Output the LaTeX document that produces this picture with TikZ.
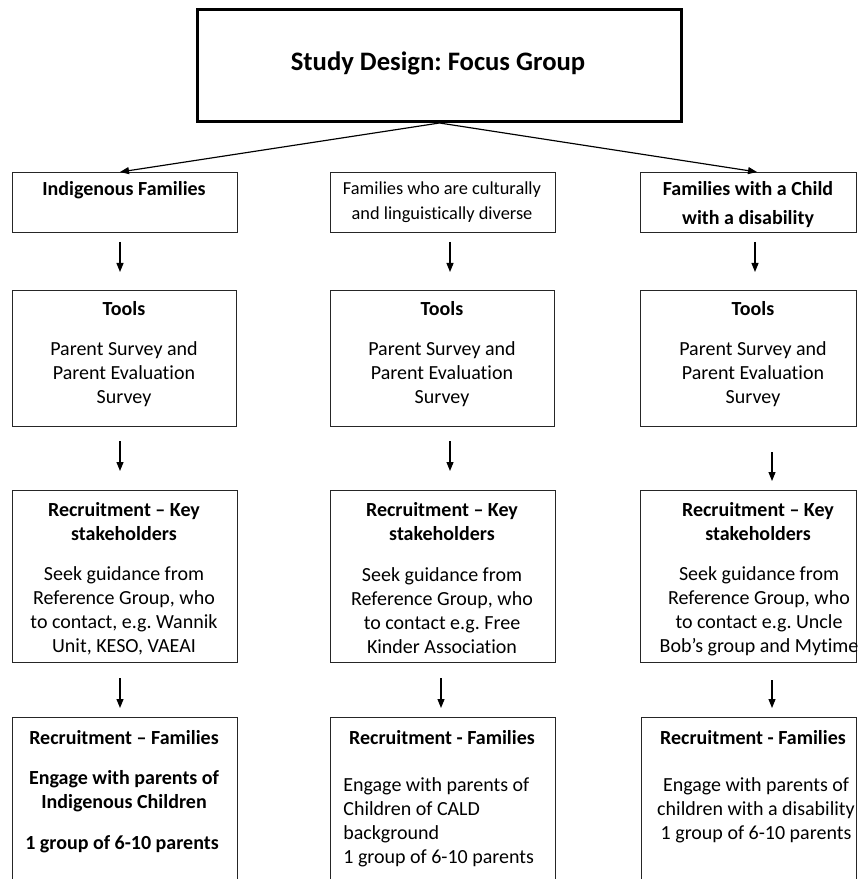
\documentclass[tikz,border=0pt]{standalone}
\usepackage{fontspec}
\setmainfont{Carlito}[Ligatures=NoCommon]
\frenchspacing
\usetikzlibrary{arrows.meta}

\tikzset{
  box/.style={draw=black!85, line width=0.6pt, anchor=north west, inner sep=0pt},
  txt/.style={align=center, inner sep=0pt, font=\fontsize{12}{14.4}\selectfont},
  hd/.style={align=center, inner sep=0pt, font=\fontsize{12}{14.4}\selectfont\bfseries},
  arr/.style={-{Triangle[width=4.2pt,length=5.4pt]}, line width=0.7pt},
}

\begin{document}
\begin{tikzpicture}[x=0.6pt, y=-0.6pt]
    \useasboundingbox (0,0) rectangle (857,879);

    %title
    \node[box, line width=1.8pt, draw=black, minimum width=484*0.6pt, minimum height=112*0.6pt] (top) at (196,8) {};
    \node[font=\fontsize{16}{19}\selectfont\bfseries] (title) at (438,63) {Study Design: Focus Group};

    %Indigenous families (left column)
    \node[box, minimum width=225*0.6pt, minimum height=60*0.6pt] (ind) at (12,172) {};
    \node[hd] (indT) at (124,190) {Indigenous Families};

    \node[box, minimum width=224*0.6pt, minimum height=136*0.6pt] (indTools) at (12,290) {};
    \node[hd] (indToolsH) at (124,309) {Tools};
    \node[txt] (indToolsB) at (124,374) {Parent Survey and\\Parent Evaluation\\Survey};

    \node[box, minimum width=225*0.6pt, minimum height=172*0.6pt] (indKey) at (12,490) {};
    \node[hd] (indKeyH) at (124,522) {Recruitment -- Key\\stakeholders};
    \node[txt] (indKeyB) at (124,611) {Seek guidance from\\Reference Group, who\\to contact, e.g. Wannik\\Unit, KESO, VAEAI};

    \node[box, minimum width=225*0.6pt, minimum height=180*0.6pt] (indFam) at (12,717) {};
    \node[hd] (indFamH) at (124,738) {Recruitment -- Families};
    \node[hd] (indFamB) at (124,791) {Engage with parents of\\Indigenous Children};
    \node[hd] (indFamG) at (122,844) {1 group of 6-10 parents};

    %CALD families (middle column)
    \node[box, minimum width=225*0.6pt, minimum height=60*0.6pt] (cald) at (330,172) {};
    \node[align=center, inner sep=0pt, font=\fontsize{11}{15}\selectfont] (caldT) at (442,202) {Families who are culturally\\and linguistically diverse};

    \node[box, minimum width=224*0.6pt, minimum height=136*0.6pt] (caldTools) at (330,290) {};
    \node[hd] (caldToolsH) at (442,309) {Tools};
    \node[txt] (caldToolsB) at (442,374) {Parent Survey and\\Parent Evaluation\\Survey};

    \node[box, minimum width=225*0.6pt, minimum height=172*0.6pt] (caldKey) at (330,490) {};
    \node[hd] (caldKeyH) at (442,522) {Recruitment -- Key\\stakeholders};
    \node[txt] (caldKeyB) at (442,611) {Seek guidance from\\Reference Group, who\\to contact e.g. Free\\Kinder Association};

    \node[box, minimum width=225*0.6pt, minimum height=180*0.6pt] (caldFam) at (330,717) {};
    \node[hd] (caldFamH) at (442,738) {Recruitment - Families};
    \node[txt, align=left, anchor=west] (caldFamB) at (343,822) {Engage with parents of\\Children of CALD\\background\\1 group of 6-10 parents};

    %Child with a disability (right column)
    \node[box, minimum width=216*0.6pt, minimum height=60*0.6pt] (dis) at (640,172) {};
    \node[align=center, inner sep=0pt, font=\fontsize{12}{17.4}\selectfont\bfseries] (disT) at (748,205) {Families with a Child\\with a disability};

    \node[box, minimum width=216*0.6pt, minimum height=136*0.6pt] (disTools) at (640,290) {};
    \node[hd] (disToolsH) at (753,309) {Tools};
    \node[txt] (disToolsB) at (753,374) {Parent Survey and\\Parent Evaluation\\Survey};

    \node[box, minimum width=216*0.6pt, minimum height=172*0.6pt] (disKey) at (640,490) {};
    \node[hd] (disKeyH) at (758,522) {Recruitment -- Key\\stakeholders};
    \node[txt] (disKeyB) at (759,611) {Seek guidance from\\Reference Group, who\\to contact e.g. Uncle\\Bob's group and Mytime};

    \node[box, minimum width=215*0.6pt, minimum height=180*0.6pt] (disFam) at (641,717) {};
    \node[hd] (disFamH) at (753,738) {Recruitment - Families};
    \node[txt] (disFamB) at (756,810) {Engage with parents of\\children with a disability\\1 group of 6-10 parents};

    %arrow ends
    \coordinate (indIn) at (120,172);
    \coordinate (disIn) at (757,172);
    \coordinate (i1) at (120,242); \coordinate (i2) at (120,272);
    \coordinate (i3) at (120,441); \coordinate (i4) at (120,471);
    \coordinate (i5) at (120,678); \coordinate (i6) at (120,708);
    \coordinate (c1) at (450,242); \coordinate (c2) at (450,272);
    \coordinate (c3) at (450,441); \coordinate (c4) at (450,471);
    \coordinate (c5) at (441,678); \coordinate (c6) at (441,708);
    \coordinate (d1) at (755,242); \coordinate (d2) at (755,272);
    \coordinate (d3) at (772,452); \coordinate (d4) at (772,481);
    \coordinate (d5) at (772,680); \coordinate (d6) at (772,708);

    \draw[arr] (top.south) -- (indIn);
    \draw[arr] (top.south) -- (disIn);
    \draw[arr] (i1) -- (i2);
    \draw[arr] (i3) -- (i4);
    \draw[arr] (i5) -- (i6);
    \draw[arr] (c1) -- (c2);
    \draw[arr] (c3) -- (c4);
    \draw[arr] (c5) -- (c6);
    \draw[arr] (d1) -- (d2);
    \draw[arr] (d3) -- (d4);
    \draw[arr] (d5) -- (d6);
\end{tikzpicture}
\end{document}
